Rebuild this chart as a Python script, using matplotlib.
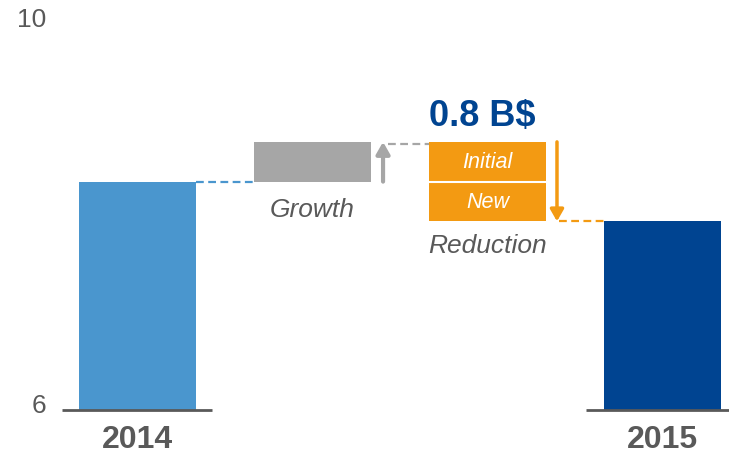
import matplotlib.pyplot as plt

plt.rcParams['font.family'] = ['Liberation Sans', 'DejaVu Sans']

# waterfall: 2014 -> growth -> reduction (initial + new) -> 2015
labels = ['2014', 'Growth', 'Reduction', '2015']
start_value = 8.3
growth = 0.4
reduction_parts = [0.4, 0.4]          # Initial, New
reduction_names = ['Initial', 'New']
end_value = start_value + growth - sum(reduction_parts)
y_ticks = [6, 10]
total_label = '0.8 B$'

blue = '#4A96CE'
navy = '#004491'
grey = '#A6A6A6'
orange = '#F39A12'
text_grey = '#595959'

fig = plt.figure(figsize=(7.29, 4.56), dpi=100)
ax = fig.add_axes([0, 0, 1, 1])
ax.set_xlim(-0.786, 3.38)
ax.set_ylim(5.547, 10.139)
ax.axis('off')

w = 0.669
base = y_ticks[0]
top = start_value + growth

ax.bar(0, start_value - base, bottom=base, width=w, color=blue)
ax.bar(1, growth, bottom=start_value, width=w, color=grey)
level = top
for part, name in zip(reduction_parts, reduction_names):
    ax.bar(2, part, bottom=level - part, width=w, color=orange)
    ax.text(2, level - part / 2, name, ha='center', va='center',
            fontsize=15.5, style='italic', color='white')
    level -= part
ax.plot([2 - w / 2, 2 + w / 2], [top - reduction_parts[0]] * 2,
        color='white', lw=1.5)
ax.bar(3, end_value - base, bottom=base, width=w, color=navy)

# connectors
dash = (0, (3.5, 2))
ax.plot([w / 2, 1 - w / 2], [start_value] * 2, color=blue, lw=1.6, ls=dash)
ax.plot([1.43, 2 - w / 2], [top - 0.02] * 2, color=grey, lw=1.6, ls=dash)
ax.plot([2.41, 3 - w / 2], [end_value] * 2, color=orange, lw=1.6, ls=dash)

# arrows
ax.annotate('', xy=(1.403, top), xytext=(1.403, start_value),
            arrowprops=dict(arrowstyle='-|>,head_length=0.7,head_width=0.4',
                            color=grey, lw=3, shrinkA=0, shrinkB=0))
ax.annotate('', xy=(2.397, end_value), xytext=(2.397, top),
            arrowprops=dict(arrowstyle='-|>,head_length=0.7,head_width=0.4',
                            color=orange, lw=2.5, shrinkA=0, shrinkB=0))

# baselines
ax.plot([-0.431, 0.426], [base] * 2, color=text_grey, lw=2, solid_capstyle='butt')
ax.plot([2.564, 3.38], [base] * 2, color=text_grey, lw=2, solid_capstyle='butt')

# axis labels
ax.text(-0.52, y_ticks[1] - 0.06, str(y_ticks[1]), ha='right', va='center',
        fontsize=19, color=text_grey)
ax.text(-0.52, y_ticks[0] + 0.05, str(y_ticks[0]), ha='right', va='center',
        fontsize=19, color=text_grey)

ax.text(0, 5.705, labels[0], ha='center', va='center', fontsize=23,
        fontweight='bold', color=text_grey)
ax.text(3, 5.705, labels[3], ha='center', va='center', fontsize=23,
        fontweight='bold', color=text_grey)
ax.text(1, 8.02, labels[1], ha='center', va='center', fontsize=19,
        style='italic', color=text_grey)
ax.text(2, 7.66, labels[2], ha='center', va='center', fontsize=19,
        style='italic', color=text_grey)
ax.text(1.97, 8.97, total_label, ha='center', va='center', fontsize=26,
        fontweight='bold', color=navy)

fig.savefig('out.png', dpi=100)
